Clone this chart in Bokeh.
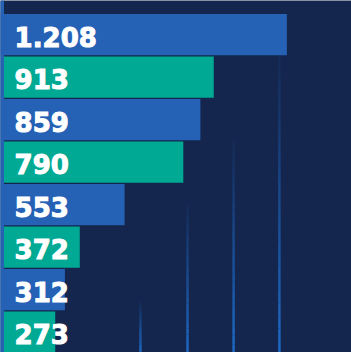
from bokeh.plotting import figure
from bokeh.models import Range1d, Span, ColumnDataSource
from bokeh.core.properties import value
from bokeh.embed import file_html
from bokeh.resources import INLINE

values = [1208, 913, 859, 790, 553, 372, 312, 273]
colors = ["#2562b6", "#00a993", "#2562b6", "#00a993", "#2562b6", "#00a993", "#2562b6", "#00a993"]
labels = [f"{v:,}".replace(",", ".") for v in values]
idx = list(range(len(values)))

BG = "#14264d"
W, H = 351, 352

p = figure(width=W, height=H, output_backend="svg", toolbar_location=None,
           x_range=Range1d(52, 1469), y_range=Range1d(7.48, -0.8),
           min_border=0, min_border_left=0, min_border_right=0,
           min_border_top=0, min_border_bottom=0)
p.background_fill_color = BG
p.border_fill_color = BG
p.outline_line_color = None
p.axis.visible = False
p.grid.visible = False

# decorative fading vertical lines
grid_x = [617, 807, 993, 1178]
grid_top = [6.3, 4.0, 2.5, 0.5]
xs0, ys0, ys1, xs1, al = [], [], [], [], []
N = 24
for gx, gt in zip(grid_x, grid_top):
    bottom = 7.5
    step = (bottom - gt) / N
    for k in range(N):
        xs0.append(gx); xs1.append(gx)
        ys0.append(gt + k * step); ys1.append(gt + (k + 1) * step)
        al.append(0.05 + 0.85 * (k + 1) / N)
p.segment(x0=xs0, y0=ys0, x1=xs1, y1=ys1, line_color="#1f6fd0", line_width=2.5, line_alpha=al)

src = ColumnDataSource(dict(y=idx, right=values, color=colors, label=labels,
                            left=[0] * len(values)))
p.hbar(y="y", left="left", right="right", height=0.97, fill_color="color",
       line_color=None, source=src)

p.add_layout(Span(location=58, dimension="height", line_color="#2562b6", line_width=4))

p.text(x="left", y="y", text="label", source=src, x_offset=27, y_offset=2,
       text_color="white", text_font=value("DejaVu Sans"), text_font_style="bold",
       text_font_size="26px", text_baseline="middle", text_align="left",
       text_outline_color="white")

open("out.html", "w").write(file_html(p, INLINE))
